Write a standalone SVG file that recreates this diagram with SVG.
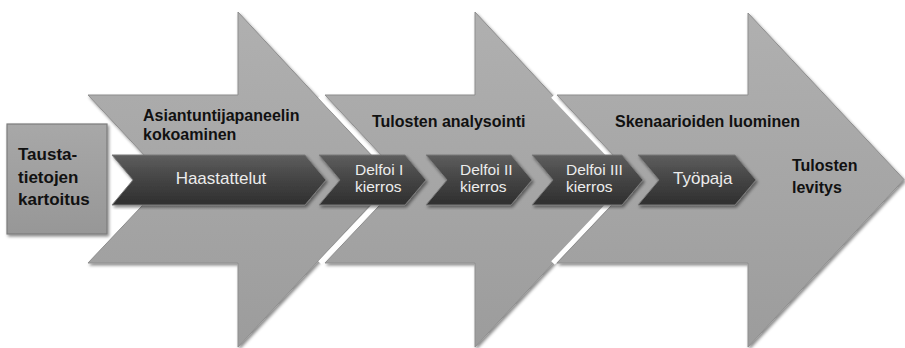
<svg xmlns="http://www.w3.org/2000/svg" width="905" height="348" viewBox="0 0 905 348">
<defs>
<linearGradient id="gBig" x1="0" y1="0" x2="0" y2="1">
<stop offset="0" stop-color="#b0b0b0"/>
<stop offset="0.5" stop-color="#a6a6a6"/>
<stop offset="1" stop-color="#9c9c9c"/>
</linearGradient>
<linearGradient id="gBox" x1="0" y1="0" x2="0" y2="1">
<stop offset="0" stop-color="#a8a8a8"/>
<stop offset="1" stop-color="#979797"/>
</linearGradient>
<linearGradient id="gChev" x1="0" y1="0" x2="0" y2="1">
<stop offset="0" stop-color="#5e5e5e"/>
<stop offset="0.45" stop-color="#464646"/>
<stop offset="1" stop-color="#2f2f2f"/>
</linearGradient>
<filter id="sh" x="-10%" y="-10%" width="120%" height="120%">
<feDropShadow dx="1.5" dy="2" stdDeviation="1.5" flood-color="#000" flood-opacity="0.45"/>
</filter>
</defs>
<style>
.big{fill:url(#gBig);stroke:#8e8e8e;stroke-width:1;filter:url(#sh)}
.box{fill:url(#gBox);stroke:#7c7c7c;stroke-width:1.2;filter:url(#sh)}
.chev{fill:url(#gChev);stroke:#7a7a7a;stroke-width:1;filter:url(#sh)}
.hl{fill:none;stroke:#ffffff;stroke-width:5;stroke-linejoin:miter}
.lbl{font-family:"Liberation Sans",Arial,sans-serif;font-weight:bold;font-size:16px;fill:#111}
.blbl{font-family:"Liberation Sans",Arial,sans-serif;font-weight:bold;font-size:17px;fill:#111}
.clbl{font-family:"Liberation Sans",Arial,sans-serif;font-size:15.5px;fill:#ececec}
.clbl2{font-family:"Liberation Sans",Arial,sans-serif;font-size:17px;fill:#ececec}
</style>
<rect width="905" height="348" fill="#ffffff"/>
<g id="arrow-asiantuntijapaneeli">
<path class="big" d="M88,95 L238,95 L238,12 L394,179.5 L238,347 L238,263 L88,263 L167,179.5 Z"/>
</g>
<g id="box-taustatiedot">
<rect class="box" x="7" y="124" width="100" height="110"/>
<text class="blbl" x="18" y="160">Tausta-</text>
<text class="blbl" x="18" y="182.5">tietojen</text>
<text class="blbl" x="18" y="205">kartoitus</text>
</g>
<g id="arrow-tulosten-analysointi">
<polyline class="hl" points="320,96 399,179.5 320,263"/>
<path class="big" d="M325,95 L475,95 L475,12 L631,179.5 L475,347 L475,263 L325,263 L404,179.5 Z"/>
</g>
<g id="arrow-skenaariot">
<polyline class="hl" points="553,96 632,179.5 553,263"/>
<path class="big" d="M557,95 L748,95 L748,13 L904,179.5 L748,347 L748,263 L557,263 L636,179.5 Z"/>
</g>
<g id="labels-big">
<text class="lbl" x="143" y="120.5">Asiantuntijapaneelin</text>
<text class="lbl" x="143" y="140">kokoaminen</text>
<text class="lbl" x="372" y="127">Tulosten analysointi</text>
<text class="lbl" x="615" y="127">Skenaarioiden luominen</text>
<text class="lbl" x="792" y="171">Tulosten</text>
<text class="lbl" x="792" y="193">levitys</text>
</g>
<g id="chev-haastattelut">
<path class="chev" d="M112,155 L305,155 L326,180 L305,205 L112,205 L133,180 Z"/>
<text class="clbl2" x="221" y="184" text-anchor="middle">Haastattelut</text>
</g>
<g id="chev-delfoi1">
<path class="chev" d="M319,155 L405,155 L426,180 L405,205 L319,205 L340,180 Z"/>
<text class="clbl" x="355" y="175">Delfoi I</text>
<text class="clbl" x="355" y="192">kierros</text>
</g>
<g id="chev-delfoi2">
<path class="chev" d="M426,155 L511,155 L532,180 L511,205 L426,205 L447,180 Z"/>
<text class="clbl" x="460" y="175">Delfoi II</text>
<text class="clbl" x="460" y="192">kierros</text>
</g>
<g id="chev-delfoi3">
<path class="chev" d="M532,155 L622,155 L643,180 L622,205 L532,205 L553,180 Z"/>
<text class="clbl" x="566" y="175">Delfoi III</text>
<text class="clbl" x="566" y="192">kierros</text>
</g>
<g id="chev-tyopaja">
<path class="chev" d="M638,155 L735,155 L756,180 L735,205 L638,205 L659,180 Z"/>
<text class="clbl2" x="673" y="184">Työpaja</text>
</g>
<g id="connectors"/>
</svg>
